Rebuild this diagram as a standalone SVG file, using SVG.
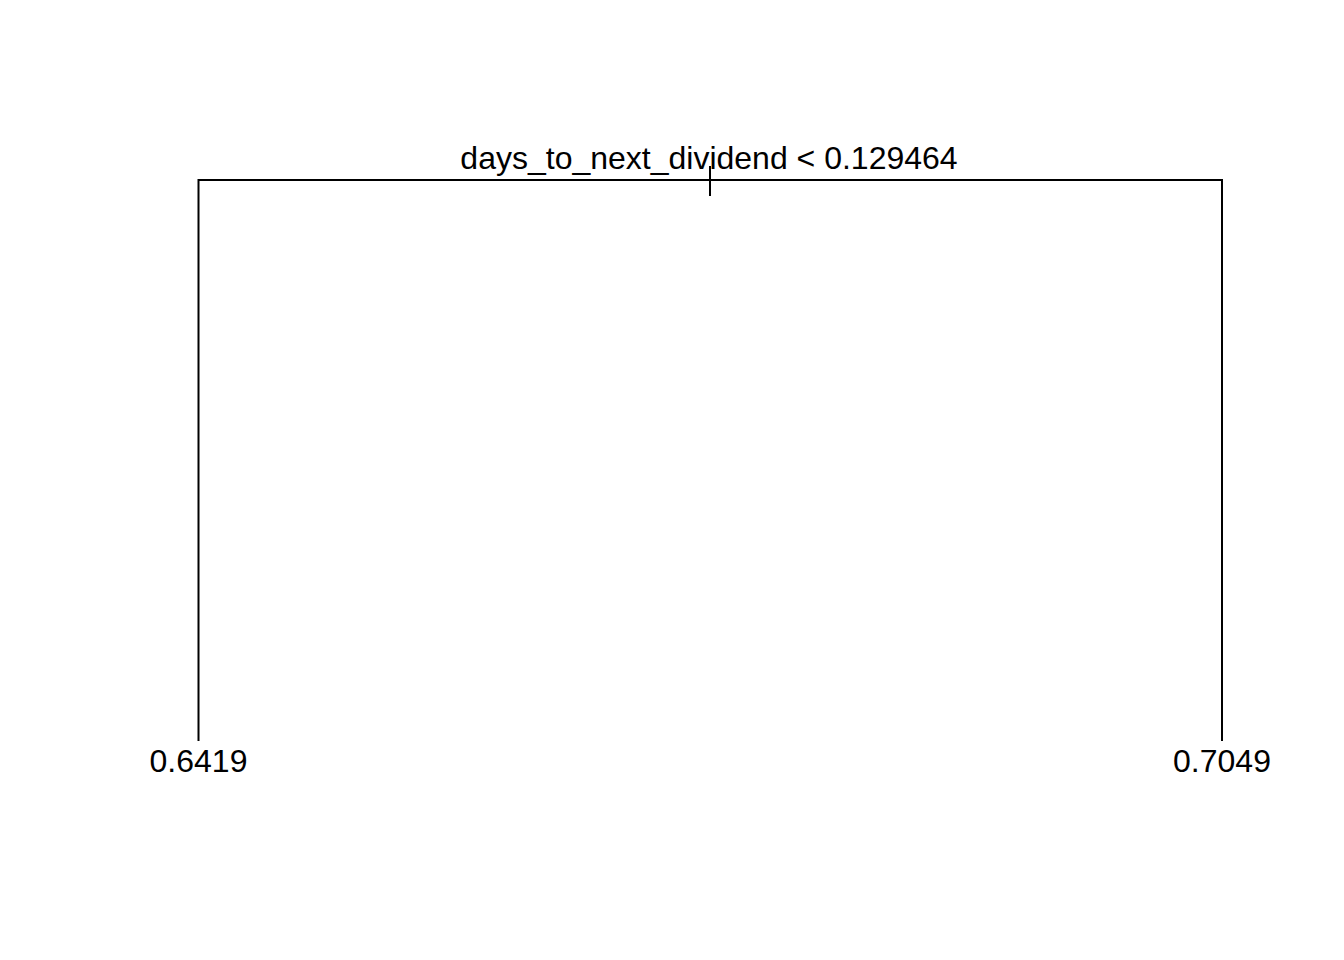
<svg xmlns="http://www.w3.org/2000/svg" width="1344" height="960" viewBox="0 0 1344 960">
<style>
.e{stroke:#000;stroke-width:2;fill:none;stroke-linecap:butt}
text{font-family:"Liberation Sans",Arial,sans-serif;font-size:32px;fill:#000;text-anchor:middle}
</style>
<rect width="1344" height="960" fill="#fff"/>
<g id="connectors">
<path class="e" d="M198.5,741 V180 H1222 V741"/>
<path class="e" d="M710,166 V196"/>
</g>
<g id="root"><text x="709" y="169">days_to_next_dividend &lt; 0.129464</text></g>
<g id="leaf-left"><text x="198.5" y="772">0.6419</text></g>
<g id="leaf-right"><text x="1222" y="772">0.7049</text></g>
</svg>
